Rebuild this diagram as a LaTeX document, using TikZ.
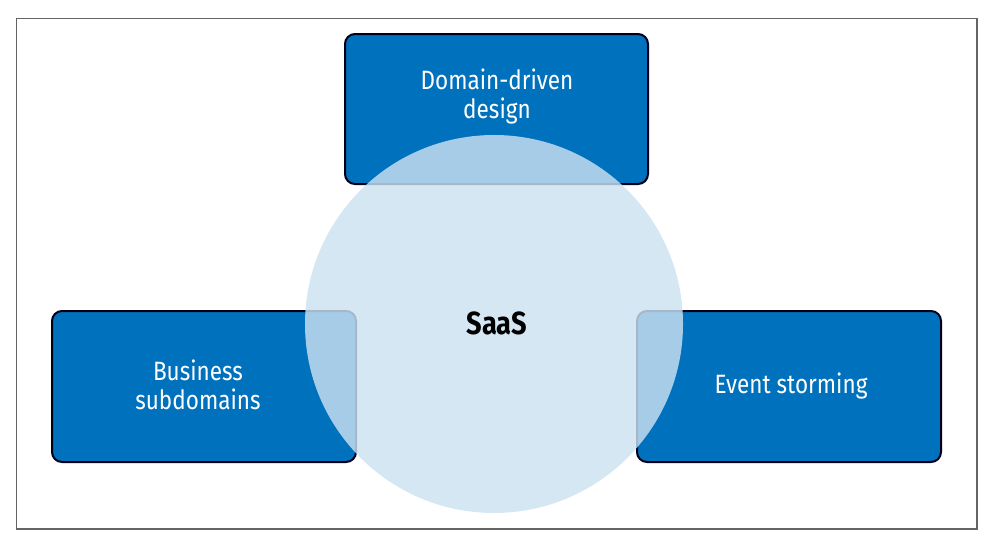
\documentclass[tikz,border=0pt]{standalone}
\usepackage{fontspec}
\setmainfont{Fira Sans}
\begin{document}
\begin{tikzpicture}[x=1pt,y=-1pt,
  bluebox/.style={draw=black!90!blue, line width=2pt, fill=boxblue, rounded corners=10pt},
  boxtext/.style={text=white, font=\fontsize{26.5}{29}\selectfont, align=center},
]
\definecolor{boxblue}{RGB}{0,113,188}
\definecolor{circfill}{RGB}{205,226,242}
\definecolor{framegray}{RGB}{100,100,100}
\useasboundingbox (0,0) rectangle (987,539);
\draw[framegray, line width=1.2pt] (16.5,18.5) rectangle (977,529);
\draw[bluebox] (345,34) rectangle (648,184);
\draw[bluebox] (52,311) rectangle (356,462);
\draw[bluebox] (637,311) rectangle (941,462);
\node[boxtext] (ddd) at (497,96) {\scalebox{0.85}[1]{Domain-driven}\\\scalebox{0.85}[1]{design}};
\node[boxtext] (bs) at (198,385) {\scalebox{0.85}[1]{Business}\\\scalebox{0.85}[1]{subdomains}};
\node[boxtext] (es) at (791,386) {\scalebox{0.85}[1]{Event storming}};
\fill[circfill, fill opacity=0.81] (494,324) circle (189);
\node[font=\fontsize{32}{38}\selectfont\bfseries] (saas) at (497,323) {\scalebox{0.85}[1]{SaaS}};
\end{tikzpicture}
\end{document}
